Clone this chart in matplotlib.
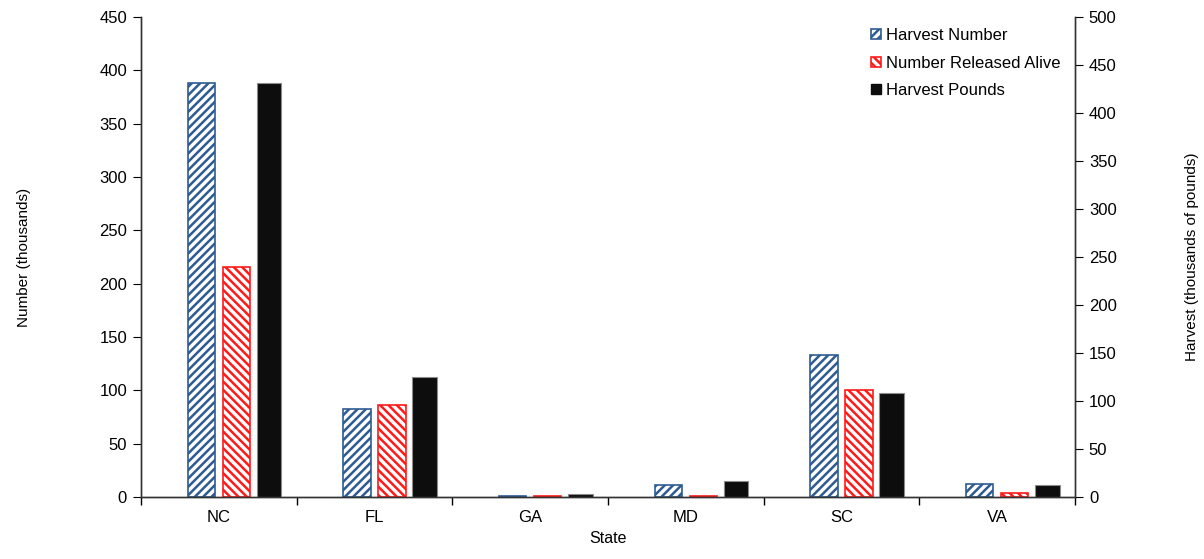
import numpy as np
import matplotlib
matplotlib.use('Agg')
import matplotlib.pyplot as plt
from matplotlib.patches import Patch

plt.rcParams['font.family'] = ['Liberation Sans', 'DejaVu Sans']
plt.rcParams['hatch.linewidth'] = 1.8

states = ['NC', 'FL', 'GA', 'MD', 'SC', 'VA']
harvest_number = [388, 82.5, 1, 11.5, 133.5, 12]
released_alive = [216, 86, 1, 1, 100, 4]
harvest_pounds = [431, 125, 3, 17, 108.5, 12]

blue = '#2E5B92'
red = '#FF1A1A'

fig = plt.figure(figsize=(12.04, 5.59), dpi=100)
ax = fig.add_axes([141 / 1204, 62 / 559, 934 / 1204, 480 / 559])
ax2 = ax.twinx()

x = np.arange(len(states))
w = 0.175
ax.bar(x - 0.113, harvest_number, w, facecolor='white', edgecolor=blue,
       hatch='////', linewidth=1.2, zorder=2)
ax.bar(x + 0.113, released_alive, w, facecolor='white', edgecolor=red,
       hatch='\\\\\\\\', linewidth=1.2, zorder=2)
ax2.bar(x + 0.323, harvest_pounds, 0.158, color='#0D0D0D',
        edgecolor='#8C8C8C', linewidth=0.8, zorder=2)

ax.set_xlim(-0.5, len(states) - 0.5)
ax.set_ylim(0, 450)
ax2.set_ylim(0, 500)
ax.set_yticks(range(0, 451, 50))
ax2.set_yticks(range(0, 501, 50))

ax.set_xticks(np.arange(-0.5, len(states), 1))
ax.set_xticklabels([])
ax.set_xticks(x, minor=True)
ax.set_xticklabels(states, minor=True)
ax.tick_params(axis='x', which='minor', length=0, pad=9, labelsize=12)
ax.tick_params(axis='x', which='major', length=6, direction='out', width=1)
ax.tick_params(axis='y', length=6, direction='out', labelsize=12, pad=4)
ax2.tick_params(axis='y', length=6, direction='out', labelsize=12, pad=4)

for a in (ax, ax2):
    a.spines['top'].set_visible(False)
    for s in ('left', 'right', 'bottom'):
        a.spines[s].set_color('#333333')
        a.spines[s].set_linewidth(1)

ax.set_xlabel('State', fontsize=11.5, labelpad=5)
ax.set_ylabel('Number (thousands)', fontsize=11, labelpad=49)
ax2.set_ylabel('Harvest (thousands of pounds)', fontsize=11, labelpad=49)

handles = [Patch(facecolor='white', edgecolor=blue, hatch='////', linewidth=1.2),
           Patch(facecolor='white', edgecolor=red, hatch='\\\\\\\\', linewidth=1.2),
           Patch(facecolor='#0D0D0D', edgecolor='#0D0D0D')]
ax2.legend(handles, ['Harvest Number', 'Number Released Alive', 'Harvest Pounds'],
           loc='upper right', bbox_to_anchor=(1.0, 1.008), frameon=False,
           fontsize=12, handlelength=0.55, handleheight=0.55, handletextpad=0.3,
           labelspacing=0.75)

fig.savefig('out.png', dpi=100)
